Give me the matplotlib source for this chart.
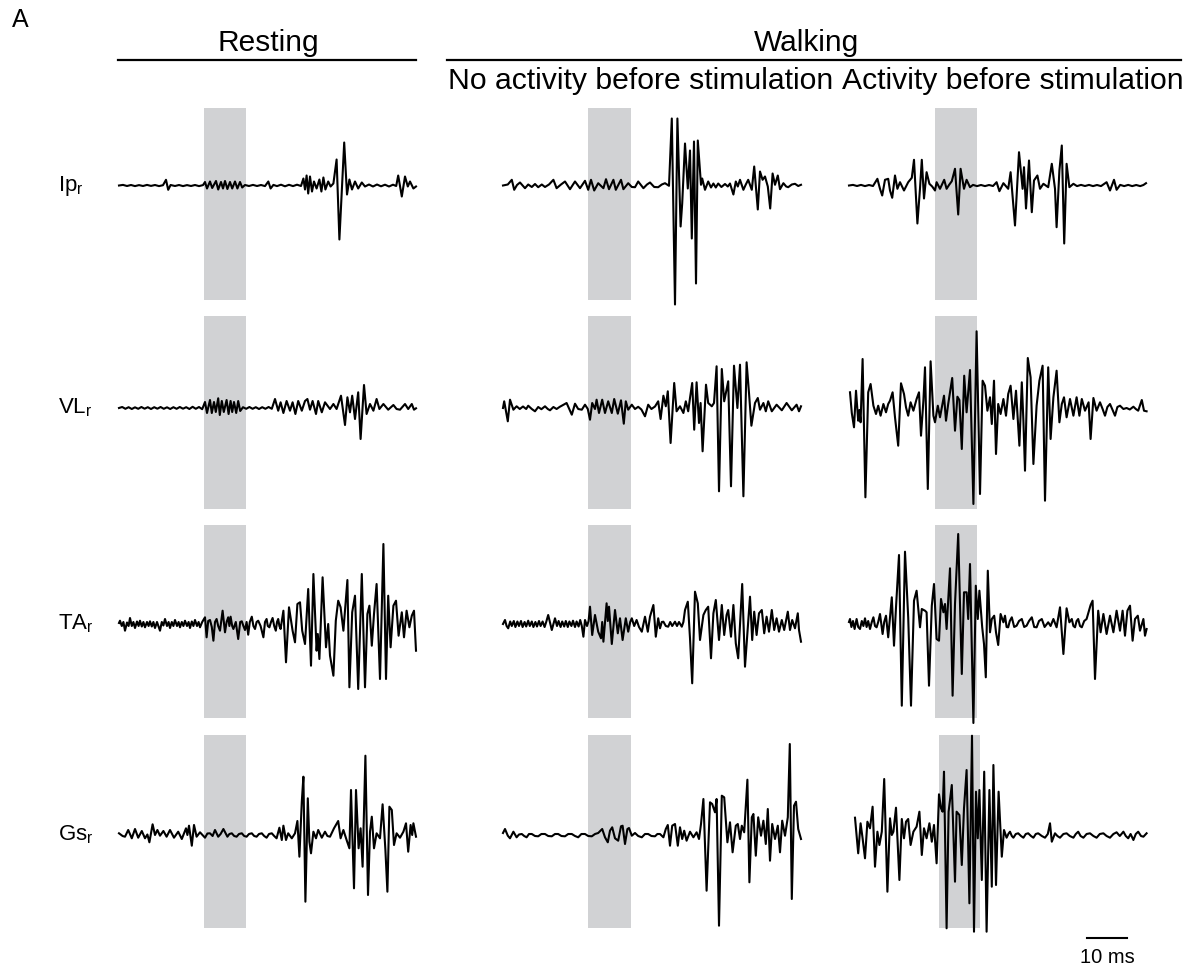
import matplotlib

matplotlib.use("Agg")
import matplotlib.pyplot as plt
from matplotlib.lines import Line2D

plt.rcParams["font.family"] = ["Liberation Sans", "DejaVu Sans"]
plt.rcParams["mathtext.fontset"] = "custom"
plt.rcParams["mathtext.rm"] = "Liberation Sans"

# EMG traces: (time in ms, amplitude in arbitrary units)
IP_REST = [(0, 0), (1, 0.6), (2, -0.5), (3, 0.5), (4, -0.6), (5, 0.4), (6, -0.5), (7, 0.6), (8, -0.4), (9, 0.5),
           (10, -0.6), (11, 0.3), (11.75, 5.7), (12.3, -4.3), (12.9, 0.5), (14, -0.5), (15, 0.5), (16, -0.6),
           (17, 0.4), (18, -0.5), (19, 0.5), (20, -0.6), (21, 0.4), (21.5, 3.5), (22, -3), (22.75, 4), (23.3, -2.5),
           (24.25, 4.5), (24.8, -4), (25.5, 3.5), (26, -3), (26.5, 4.5), (27.1, -3.5), (27.75, 3.5), (28.3, -3),
           (29, 4), (29.6, -3), (30.25, 3.5), (30.8, -2), (31.5, 0.5), (32.5, -0.5), (33.5, 0.6), (34.5, -0.5),
           (35.5, 0.5), (36.5, -0.6), (37.33, 4), (37.9, -3), (38.6, 0.6), (39.5, -0.6), (40.5, 0.8), (41.5, -0.8),
           (42.5, 0.7), (43.5, -0.6), (44.5, 0.8), (45.5, -0.5), (46.1, 7), (46.5, -4), (46.9, 10), (47.3, -8),
           (47.75, 9), (48.25, -6), (48.75, 4), (49.4, -3), (50.1, 6), (50.6, -6), (51.1, 8), (51.6, -4), (52.3, 4),
           (52.9, -1), (53.6, 2), (54.4, 26), (55.1, -54), (56.3, 43), (57, -9), (57.6, 6), (58.25, -4), (59, 4),
           (59.8, -3), (60.7, 3), (61.5, -1), (62.5, 1), (63.5, -1), (64.5, 1), (65.5, -0.8), (66.5, 0.8), (67.5, -1),
           (68.5, 0.8), (69.3, -0.5), (69.8, 10), (70.7, -11), (71.5, 9), (72.2, -1), (72.75, 4), (73.6, -3),
           (74.25, -1)]

IP_WALK0 = [(0, 0), (1.2, 1), (2.2, 5.7), (2.8, -4.3), (3.5, 0.5), (4.25, 3), (5.5, -2.7), (6.3, 1), (7.2, -1.5),
            (8, 1.5), (8.8, -1.7), (9.7, 1), (10.5, -1.5), (11.5, 1), (12.6, 5.7), (13.4, -2.7), (14.5, 1),
            (15.5, 4), (16.75, -3.7), (18, 4), (19.25, -2.7), (20.5, 4.7), (21.3, -4.3), (22, 5.7), (22.8, -5),
            (23.8, 2.3), (25.1, -2.7), (25.75, 6.3), (26.5, -3.7), (27.6, 5.7), (28.2, -4.3), (29.5, 5.7),
            (30.1, -3.7), (31.3, 2.3), (32.2, -1.5), (33, -1.7), (33.8, 4), (35.1, -2.7), (36, 1), (36.75, 3),
            (37.8, -1.5), (38.8, -1.7), (39.7, 1), (40.5, 2.3), (41.5, -0.3), (42.2, 67), (43, -119), (43.6, 67),
            (44.4, -41), (44.8, -18), (45.5, 42), (46.2, -3), (46.75, 35), (47.2, -53), (47.75, 44), (48.25, -98),
            (48.7, 45), (49.5, 0.7), (49.8, 7), (50.5, -4.3), (51.3, 4), (52, -2), (52.6, 2), (53.2, -2), (53.8, 2),
            (54.6, -1.5), (55.5, 1.5), (56.2, -1), (56.75, 2), (57.6, -9), (58.2, 4), (58.7, -1), (59.25, 5.7),
            (60.1, -4.3), (60.7, 1), (61.3, 5.7), (62.2, -4.3), (62.8, 19), (63.7, -24), (64.25, 14), (64.9, 5.7),
            (65.5, 9), (66.2, -1), (66.8, -23), (67.4, 12), (68, 0.7), (68.7, 10), (69.25, -3.7), (70.1, 2.3),
            (70.8, -1), (71.3, -1.7), (72.2, 1), (73, 1.7), (73.8, -0.5), (74.5, 0.7)]

IP_WALK1 = [(0, 0), (1, 0.6), (2, -0.5), (3, 0.6), (4, -0.6), (5, 0.5), (6, -0.5), (7.1, 6.7), (7.75, -3.3),
            (8.3, -10), (9, 5.7), (9.8, 6.7), (10.25, -5), (10.8, -12.3), (11.5, 10), (12.1, -3.3), (12.75, 3.3),
            (13.75, -5), (14.8, 3.3), (15.7, 7.7), (16.25, 25.7), (17.1, -38), (17.75, -3), (18.2, 25.7),
            (18.75, -13), (19.4, 13.3), (20.1, 1.7), (20.8, -1), (21.5, -5), (21.9, 3.3), (22.75, -3.3), (23.8, 5.7),
            (24.4, -3.3), (25, 0.5), (25.7, 4.3), (26.5, 16.7), (27.3, -29), (27.9, 16.7), (28.75, -3.3),
            (29.4, 5.7), (30.25, -1.7), (31, 0.6), (32, -0.6), (33, 0.5), (34, -0.6), (35, 0.5), (36, -0.5),
            (36.9, 3.3), (37.6, -5.7), (38.6, 2.3), (39.8, -3.3), (40.4, 13.3), (41.5, -40), (42.5, 33.3),
            (43.4, -3.3), (43.75, 18.3), (44.25, -23), (45, 25), (45.7, -26.7), (46.25, 5), (47.1, 10),
            (47.75, -3.3), (48.6, 1.7), (49.8, -1.7), (50.7, 21.7), (51.5, -3.3), (51.9, -41.7), (52.6, 15),
            (53.2, 40), (53.8, -58), (54.4, 21.7), (55.1, -1.7), (56.1, 1.7), (57, -0.6), (58, 0.6), (59, -0.5),
            (60, 0.6), (61, -0.6), (62, 0.5), (63, -0.6), (64.4, 3.3), (65.25, -5), (66.25, 5.7), (66.9, -4.3),
            (67.8, 0.6), (68.8, -0.6), (69.8, 0.6), (70.8, -0.6), (71.8, 0.5), (72.8, -0.6), (73.6, 0.5),
            (74.25, 2.3)]

VL_REST = [(0, 0), (0.8, 1), (1.6, -0.8), (2.4, 0.8), (3.2, -1), (4, 0.7), (4.8, -0.8), (5.6, 1), (6.4, -0.7),
           (7.2, 0.8), (8, -1), (8.8, 0.8), (9.6, -0.7), (10.4, 1), (11.2, -0.8), (12, 0.7), (12.8, -1), (13.6, 0.8),
           (14.4, -0.8), (15.2, 1), (16, -0.7), (16.8, 0.8), (17.6, -1), (18.4, 1.2), (19.2, -0.8), (20, 1),
           (20.8, -1.2), (21.5, 6), (22, -5), (22.75, 8), (23.2, -5), (23.75, 6), (24.2, -4), (24.8, 9.7), (25.2, -7),
           (25.7, 7), (26.2, -4), (26.9, 8), (27.4, -6), (27.9, 7), (28.3, -4), (28.75, 6), (29.3, -5), (29.8, 7),
           (30.3, -3), (31, 0.8), (31.8, -0.8), (32.6, 1), (33.4, -0.8), (34.2, 0.8), (35, -1), (35.8, 0.8),
           (36.6, -0.8), (37.4, 1), (38.2, -0.8), (39, 9), (39.8, -2.7), (40.4, 5.7), (41.1, -5), (41.9, 7),
           (42.75, -2.7), (43.4, 5.7), (44.1, -6), (44.8, 7), (45.7, -2.7), (46.5, 7), (47.1, 9), (47.75, -1.7),
           (48.4, 7), (49.25, -6), (49.8, 7), (50.7, -4.3), (51.5, 5.7), (52.75, -1), (53.6, 4), (54.4, -1),
           (55.5, 12.3), (56.5, -17), (57.1, 10.7), (57.75, -4.3), (58.3, 12.3), (59, -11), (59.8, 15.7),
           (60.4, -31), (61.25, 23), (61.9, -6), (62.75, 4), (63.6, -2.7), (64.4, 9), (65.1, -1), (66.1, 4),
           (67.3, -1.7), (68.6, 3), (69.4, -1), (70.25, -1.7), (71.5, 4), (72.3, -1), (73.2, 4), (73.75, -1.7),
           (74.25, -0.3)]

VL_WALK0 = [(0, 0), (0.3, 6.7), (1.2, -13.3), (1.75, 8.3), (2.6, -1.7), (3.4, 1.7), (4.2, -1), (5, 1.5), (5.8, -1),
            (6.3, 2.3), (7.2, -1), (8, -3.3), (8.8, 1), (9.6, -1.2), (10.5, 1.7), (11.2, -1), (11.75, -2.3),
            (12.6, 1), (13.4, -1), (14.2, 1.2), (14.7, 2.3), (15.9, 5), (17.2, -6.7), (18, 4.3), (18.8, -1),
            (19.7, -1.7), (20.5, 3.3), (21.2, -1), (21.75, -11.7), (22.3, 5), (23, -1), (23.4, 8.3), (24, -5),
            (24.8, 8.3), (25.5, -5), (26.3, 6.7), (27.2, -5), (27.8, 9), (28.7, -5.7), (29.5, 7.7), (30.2, -15.7),
            (30.7, 6.7), (31.3, -1.7), (32.2, 3.3), (33, -1), (33.8, 1.2), (34.6, -1.5), (35.5, -8.3), (36.3, 3.3),
            (37.1, -1), (38, 1.5), (38.8, 6.7), (39.4, -11), (40.1, 12.3), (40.7, 1.7), (41.2, 16.7), (41.9, -35),
            (42.8, 25), (43.4, -3.3), (44.25, 1.7), (45.1, -5), (45.7, 6.7), (46.3, -3.3), (46.75, 10), (47.3, 25),
            (47.8, -21.7), (48.4, 25.7), (49, -15), (49.4, 5), (49.9, -43.3), (50.75, 23.3), (51.3, 5), (52.2, 1.7),
            (52.75, 5), (53.4, 41.7), (54, -83.3), (54.7, 39), (55.3, 6.7), (56.3, 26.7), (57, -78.3),
            (57.75, 42.3), (58.6, 0), (59.25, 43.3), (60.1, -88.3), (60.9, 45.7), (61.5, 15), (62.1, -17.7),
            (63, 5), (63.7, 10), (64.25, -1.7), (65.1, 5), (65.7, -3.3), (66.3, 6.7), (67.2, -3.3), (68.4, 3.3),
            (69.7, -2.3), (70.9, 5), (72.2, -2.3), (73.4, 3.3), (74, -3.3), (74.5, 1.7)]

VL_WALK1 = [(0.25, 15.7), (0.7, -5), (1.25, -19.3), (1.75, 17.3), (2.3, -12.7), (2.6, -2), (2.9, -14.3), (3.4, 49),
            (4.1, -89.3), (4.8, 15.7), (5.4, 24), (6.1, 2.3), (6.75, -6), (7.3, 2.3), (7.9, -7.7), (8.6, 4),
            (9.25, -4.3), (9.8, 4), (10.25, 7.3), (10.9, 15.7), (11.5, -9.3), (12.3, -37.7), (13, 24.7),
            (13.75, 14), (14.25, 0.7), (14.8, -7.7), (15.4, 5.7), (16.1, -2.7), (16.9, 9), (17.5, 15.7),
            (18, -27.7), (18.6, 7.3), (19, 40.7), (19.7, -81), (20.4, 46.7), (21.1, -7.7), (21.5, -14.3),
            (22.2, 2.3), (22.75, -9.3), (23.75, 12.3), (24.25, -12.7), (24.8, 4), (25.8, 30), (26.5, -22.7),
            (27.1, 11.3), (27.6, 8), (28.2, -41), (28.8, 32.3), (29.4, -4.3), (30.25, 38), (31.1, -96),
            (31.9, 76.7), (32.75, -86), (33.4, 27.3), (34, 22.3), (34.6, -2.7), (35.25, 10.7), (35.7, -16),
            (36.25, 27.3), (36.75, -46), (37.3, 4), (37.9, -6), (38.6, 9), (39.25, -7.7), (39.8, 14), (40.4, 22.3),
            (41.1, -11), (41.75, 17.3), (42.6, -37.7), (43.2, 25.7), (43.6, -12.7), (44, -62.7), (44.7, 50),
            (45.4, 30.7), (46.1, -56), (46.9, 2.3), (47.6, 27.3), (48.4, 42.3), (49, -92.7), (49.8, 40.7),
            (50.4, -31), (51.1, 10.7), (51.9, 37.3), (52.6, -14.3), (53.2, 4), (53.75, 10.7), (54.4, -9.3),
            (55.25, 9), (56.1, -7.7), (56.9, 10.7), (57.6, -7.7), (58.2, 9), (59, -2.7), (59.9, 5.7), (60.4, -31),
            (61.1, 10), (61.9, -2.7), (62.75, 5.7), (63.4, -1), (64, -7.7), (64.6, 1), (65.25, 4), (65.9, -2),
            (66.5, -7.7), (67.1, 1), (67.75, 2.3), (68.6, -1), (69.4, 0), (70.2, -1.5), (71.1, 1.3), (71.7, -1),
            (72.3, -2.7), (73.2, 8), (73.75, -2.7), (74.4, -3.3)]

TA_REST = [(0, 1), (0.25, 3.3), (0.7, -2), (1.1, 2), (1.5, -6.7), (2, 1.5), (2.4, -2), (2.75, 6), (3.2, -2),
           (3.6, 2), (4, -4), (4.5, 2.5), (4.9, -2), (5.25, 3.3), (5.7, -2.5), (6.1, 2), (6.5, -3.3), (7, 2),
           (7.4, -2), (7.75, 2.7), (8.2, -2.5), (8.6, 2), (9, -4), (9.5, 2), (9.9, -2.5), (10.25, -6.7), (10.7, 2),
           (11.1, -1.5), (11.5, 5), (12, -2), (12.4, 2), (12.75, -4), (13.2, 2), (13.6, -2), (14, 4), (14.5, -2),
           (14.9, 2), (15.25, -3.3), (15.7, 2), (16.1, -2), (16.5, 3.3), (17, -2), (17.4, 2), (17.75, -4),
           (18.2, 2.5), (18.6, -2), (19, 4), (19.5, -2), (19.9, 2), (20.25, -3.3), (20.8, 2), (21.5, 6.7),
           (21.9, -13.3), (22.3, 3), (22.75, 4), (23.2, -3), (23.6, -16.7), (24, 2), (24.4, 5), (24.8, -2),
           (25.25, -6.7), (25.9, 13.3), (26.5, -8.3), (26.9, 2), (27.3, 6.7), (27.6, -2), (27.9, 7.3), (28.3, -2),
           (28.6, -5), (29.2, 2), (29.8, -15), (30.3, 2), (30.7, 2.7), (31.1, -2), (31.5, -6), (31.9, 2),
           (32.3, -10.7), (32.7, 2), (33.2, 7.3), (33.6, -2), (34, -5), (34.4, 2), (34.8, 3.3), (35.4, -2),
           (36.1, -13.3), (36.5, 2), (36.9, 5), (37.2, -2), (37.6, -3.3), (38, 2), (38.4, 6), (38.8, -2),
           (39.2, -6.7), (39.5, 2), (39.8, 5), (40.1, -2), (40.4, -5), (41.1, 13.3), (41.75, -38.3), (42.5, 16.7),
           (43.4, -6.7), (44, -18.3), (44.6, 20), (45.25, 21.7), (45.8, -6.7), (46.5, -20), (47.3, 35),
           (48, -41.7), (48.6, 50), (49.4, -26.7), (49.7, -10), (50.1, -35), (50.9, 46.7), (51.75, -23.3),
           (52.3, 0), (52.75, -31.7), (53.6, -51.7), (54.2, 3.3), (54.8, 23.3), (55.4, 16.7), (56.1, -6.7),
           (57.1, 44), (57.6, -63.3), (58.3, 11.7), (59, 28.3), (59.8, -65), (60.7, 50), (61.5, -63.3), (62.1, 10),
           (62.6, 18.3), (63.2, -21.7), (63.75, 10), (64.4, 40), (65.25, -55), (66.1, 80), (66.75, -55),
           (67.3, 28.3), (67.9, -23.3), (68.6, 18.3), (69.25, 23.3), (69.9, -11.7), (70.7, 11.7), (71.25, -13.3),
           (71.9, 13.3), (72.6, -3.3), (73.2, 8.3), (73.75, 13.3), (74.25, -26.7)]

TA_WALK0 = [(0, 0), (0.5, 4), (0.9, -2), (1.3, -4.3), (1.8, 2.5), (2.2, -2), (2.7, 3), (3.1, -3), (3.6, 2.5),
            (4, -2), (4.5, 3), (4.9, -3), (5.4, 2), (5.8, -2.5), (6.3, 3.3), (6.7, -2), (7.2, 2.5), (7.6, -3),
            (8.1, 2), (8.5, -2.5), (9, 3), (9.4, -2), (9.9, 2.5), (10.4, -3), (10.8, 2), (11.3, 9), (12.2, -6),
            (13, 5.7), (13.5, -2), (13.9, 3), (14.4, -3), (14.8, 2.5), (15.3, -2.5), (15.7, 3), (16.2, -3),
            (16.6, 2.5), (17.1, -2), (17.5, 3.3), (18, -3), (18.4, 2.5), (18.9, -2.5), (19.3, 4), (19.7, -2),
            (20.1, -12.7), (20.5, 4), (21, -2), (21.4, 3), (21.75, 17.3), (22.3, -11), (23, 9), (23.8, -7.7),
            (24.5, -14.3), (24.8, 2), (25.1, -17.7), (25.9, 20.7), (26.2, 3), (26.5, 17.3), (27.2, -20), (28, 14),
            (28.7, -9.3), (29.25, 5.7), (29.9, -16), (30.7, 5.7), (31.3, -7.7), (31.8, 2), (32.2, 5.7), (32.8, -2),
            (33.4, 4), (34, -3), (34.7, -7.7), (35.5, 7.3), (36.2, -7.7), (36.75, 7.3), (37.6, 19), (38.2, -12.7),
            (38.8, 5.7), (39.25, -4.3), (39.7, 2), (40.1, 2.3), (40.7, -2), (41.3, -2.7), (41.8, 2), (42.3, -2),
            (43, 2.3), (43.5, -2), (44, 2), (44.7, -2.7), (45.1, 2), (45.5, 14), (46.2, 22.3), (46.75, -14.3),
            (47.3, -59.3), (48, 32.3), (48.7, 20.7), (49.25, -16), (50.1, 9), (50.7, 14), (51.3, 17.3), (52, -34.3),
            (52.6, 10.7), (53.2, 24), (54, -16), (54.7, 19), (55.3, -11), (55.9, 9), (56.3, 14), (57, -12.7),
            (57.6, 19), (58.2, -19.3), (58.8, -34.3), (59.8, 40), (60.5, -42.7), (61.2, -2.7), (61.75, 27.3),
            (62.3, -16), (62.8, 12.3), (63.4, -11), (64, 10.7), (64.7, 14), (65.3, -9.3), (65.9, 7.3), (66.5, -7.7),
            (67.2, 14), (67.8, -6), (68.4, 5.7), (69, -7.7), (69.7, 4), (70.3, -6), (71.2, 12.3), (71.75, -6),
            (72.3, 4), (73, -4.3), (73.7, 10.7), (74, -6), (74.5, -17.7)]

TA_WALK1 = [(0, 2), (0.25, 5), (0.6, -3), (1, 3), (1.4, -5), (1.9, 5), (2.3, -3), (2.75, -5), (3.2, 3), (3.6, -2),
            (4, 5.7), (4.4, -3), (4.8, 3), (5.25, -5), (5.7, 2), (6.1, 6.7), (6.5, -2), (6.9, -3.3), (7.3, 2),
            (7.75, 10), (8.4, -10), (8.8, 2), (9.25, 8.3), (9.8, -13.3), (10.7, 26.7), (11.25, -21.7),
            (11.75, 16.7), (12.5, 69), (13.2, -81.7), (14, 72.3), (14.8, 6.7), (15.5, -81.7), (16.25, 23.3),
            (16.9, 33.3), (17.75, -3.3), (18.2, 15), (19, 13.3), (19.4, 11.7), (20, -61.7), (20.7, 18.3),
            (21.25, 40), (21.9, -15), (22.5, -16.7), (23, 25), (23.6, 11.7), (24, 20), (24.4, -5), (25.25, 55.7),
            (25.9, -71.7), (26.5, 20), (27.3, 90), (28.2, -50), (28.75, 31.7), (29.4, 31.7), (29.8, 5),
            (30.25, 60), (31.1, -99), (31.7, 38.3), (32.2, 5), (32.6, 33.3), (33.3, -3.3), (33.75, -20),
            (34.2, -53.3), (34.7, 53.3), (35.25, -8.3), (35.7, 5), (36.3, 8.3), (36.75, -8.3), (37.3, -21),
            (37.9, 10), (38.6, 1.7), (39, 8.3), (39.4, -3), (39.8, -3.3), (40.2, 3), (40.7, 6.7), (41.3, -3),
            (41.9, -1.7), (42.5, 3), (43.2, 5), (43.8, -3), (44.4, -1.7), (45, 3), (45.7, 6.7), (46.3, -3),
            (46.9, -3.3), (47.5, 3), (48.2, 5), (48.9, -3), (49.8, 1.7), (50.4, -2), (51.1, 5), (51.9, -3.3),
            (52.75, 16.7), (53.6, -30), (54.4, 15.7), (55.1, 1.7), (55.7, 5), (56.1, -2), (56.5, -3.3), (56.9, 3),
            (57.3, 5), (57.75, -2), (58.2, -3.3), (58.8, 3), (59.4, 5), (60.4, 19), (60.9, 23.3), (61.5, -55),
            (62.3, 13.3), (62.9, -8.3), (63.6, 10), (64.4, -10), (65.25, 8.3), (66.1, -8.3), (66.9, 13.3),
            (67.75, -6.7), (68.4, 13.3), (69, -11.7), (69.6, 13.3), (70.25, 18.3), (70.9, -16.7), (71.5, 5),
            (72.2, 8.3), (72.75, -6.7), (73.6, 5), (74, -11.7), (74.4, -5)]

GS_REST = [(0, 1.7), (0.9, -1), (1.5, -1.7), (2.3, 5), (3.2, -3.3), (4, 6), (4.8, -2.7), (5.7, 4), (6.5, -3.3),
           (7.1, 0.5), (7.6, -7.3), (8.4, 10.7), (9, 0), (9.6, 5), (10.25, -0.7), (11.1, 4), (11.9, -1.7),
           (12.75, 5), (13.75, -2.7), (14.8, 3.3), (15.7, -4), (16.75, 6.7), (17.1, 0), (17.5, 9.3), (18.2, -10.7),
           (18.75, 10), (19.4, -1.7), (20.25, 2.7), (21.5, -2.7), (22.1, 1.5), (22.75, 1.7), (23.4, -1), (24, 5),
           (24.8, -1.7), (25.4, 1), (26.1, 6), (27.1, -1.7), (27.6, 1), (28.2, 1.7), (28.8, -1), (29.4, -1.7),
           (30, 1), (30.7, 1.7), (31.3, -1), (31.9, -1.7), (32.5, 1), (33.2, 1.7), (33.8, -1), (34.4, -1.7),
           (35, 1), (35.7, 1.7), (36.3, -1), (36.9, -2.7), (37.5, 1), (38.2, 1.7), (38.8, -1), (39.4, -3.3),
           (40.1, 7.3), (40.7, -5), (41.1, 9.3), (41.75, -5), (42.3, 1.7), (43.2, -3.3), (44, 1.7), (44.6, 14),
           (45.1, -21.7), (45.7, 33.3), (46.1, 58.3), (46.6, -66.7), (47.2, 36.7), (47.6, -6.7), (48, -18.3),
           (48.6, 3.3), (49.25, -3.3), (49.8, 5), (50.7, -2.7), (51.5, 3.3), (52.1, -1), (52.75, -1.7),
           (53.75, 6.7), (54.8, 14), (55.4, -3.3), (56.1, 5), (56.9, -5), (57.6, -13.3), (58, 45), (58.75, -53.3),
           (59.25, 45), (59.9, -13.3), (60.4, 6.7), (60.9, -31.7), (61.6, 79.3), (62.25, -60), (62.75, 3.3),
           (63.2, 18.3), (63.75, -13.3), (64.4, 1.7), (65.25, -3.3), (65.9, 30.7), (66.6, -15), (67.1, -56.7),
           (67.6, 28.3), (68.2, 25), (68.75, -10), (69.4, 1.7), (70.25, -2.7), (71.1, 3.3), (71.75, 11.7),
           (72.3, -16.7), (72.9, 10), (73.3, 0), (73.6, 11.7), (74.25, -1.7)]

GS_WALK0 = [(0, 2), (0.5, 6), (1.2, -0.7), (1.75, -3.3), (2.6, 3.3), (3.4, -2.3), (4, 0.5), (4.7, 1), (5.3, -1),
            (5.9, -2.3), (6.5, 1), (7.2, 1), (8, -1), (8.8, -1.3), (9.6, 1), (10.5, 1), (11.3, -1), (12.2, -1.3),
            (13, 1), (13.8, 1), (14.6, -1), (15.5, -1.3), (16.3, 1), (17.2, 1), (18, -1), (18.8, -2.3), (19.6, 1),
            (20.5, 1), (21.3, -1), (22.2, -1.3), (23, 1), (23.8, 2), (24.8, 6), (25.5, -2.3), (26.2, -7.3),
            (26.75, 4.3), (27.3, 7.7), (28, -3.3), (28.8, -5.7), (29.5, 8.7), (29.9, 9.3), (30.5, -9), (31.1, 6),
            (31.5, 7), (32.2, -0.7), (33, 2), (33.8, -1), (34.7, -2.3), (35.5, 1), (36.3, 1), (37.1, -1),
            (38, -1.3), (38.6, 1), (39.25, 1), (40.1, -2.3), (40.7, 6), (41.2, 10), (41.75, -10.7), (42.3, 9.3),
            (43, 11), (43.7, -10.7), (44.25, 7.7), (44.8, -4), (45.3, 4.3), (45.9, -5.7), (46.75, 3.3), (47.6, -2.3),
            (48.4, 2.7), (49, -4), (49.5, 11), (50.1, 36), (50.9, -55.7), (51.75, 32.7), (52.3, 31), (53, 22.7),
            (53.4, 36), (54, -90.7), (54.7, 39.3), (55.3, 37.7), (56.1, -7.3), (56.75, 12.7), (57.4, -17.3),
            (58.2, 9.3), (58.7, 11), (59.25, -4), (59.7, 9.3), (60.3, 2.7), (61.1, 55.3), (61.6, -47.3),
            (62.2, 17.7), (62.6, 21), (63.2, -20.7), (63.8, 17.7), (64.5, -0.7), (65.1, 14.3), (65.7, -9),
            (66.2, 26), (66.75, -25.7), (67.3, 11), (68, -4), (68.7, 9.3), (69.25, -17.3), (69.8, 14.3),
            (70.5, -0.7), (71.2, 17.7), (71.7, 91), (72.2, -64), (72.75, 29.3), (73.25, 33.3), (73.8, 6),
            (74.5, -4)]

GS_WALK1 = [(1.5, 17.3), (2.3, -18.3), (2.9, 11.7), (3.4, -3.3), (4, -23.3), (4.6, 13.3), (5.25, 6.7), (5.9, 28.3),
            (6.5, -31.7), (7.1, 3.3), (7.6, -10), (8.2, 3.3), (8.8, 56), (9.6, -56.7), (10.25, 16.7), (10.7, 0),
            (11.1, 3.3), (11.75, 27.3), (12.6, -45), (13.2, 16), (13.75, -3.3), (14.25, 13.3), (14.8, 16),
            (15.4, -10), (16.1, 3.3), (16.9, 8.3), (17.6, 23.3), (18.2, -20), (18.75, 6.7), (19.4, -3.3),
            (20.1, 11.7), (20.7, -6.7), (21.25, 10), (21.9, -28.3), (22.5, 40.7), (23, 26.7), (23.4, 23.3),
            (23.75, 63.3), (24.4, -93.3), (24.9, 23.3), (25.7, 50), (26.5, -46.7), (26.9, 23.3), (27.6, 20),
            (28.2, -30), (28.75, 26.7), (29.4, 65), (30.1, -68.3), (30.75, 99.3), (31.25, -96.7), (31.75, 43.3),
            (32.2, -3.3), (32.6, 45), (33.2, -45), (33.8, 63.3), (34.4, -96.7), (35.1, 45), (35.7, -51.7),
            (36.1, 70), (36.75, -50), (37.4, 43.3), (38.2, -21.7), (38.75, 5), (39.4, -2.7), (39.9, 1.5),
            (40.25, 3.3), (40.7, -1), (41.1, -2.7), (41.7, 1), (42.3, 1.7), (43, -1), (43.6, -2.7), (44.2, 1),
            (44.8, 1.7), (45.5, -1), (46.1, -2.7), (46.7, 1), (47.3, 1.7), (48.2, -1), (49, -2.7), (49.7, 1),
            (50.25, 11.7), (50.7, -6.7), (51.5, 1.7), (52.1, -1), (52.75, -2.7), (53.6, 1), (54.4, 1.7), (55.2, -1),
            (56.1, -2.7), (56.7, 1), (57.3, 3.3), (57.9, -1), (58.6, -2.7), (59.4, 1), (60.25, 1.7), (61.1, -1),
            (61.9, -2.7), (62.7, 1), (63.6, 1.7), (64.4, -1), (65.25, -2.7), (66.1, 1), (66.9, 2.7), (67.7, -1),
            (68.6, 3.3), (69.2, -1), (69.8, -3.3), (70.4, 1), (71.1, -5), (71.7, 1), (72.3, 3.3), (73, -1),
            (73.6, -1.7), (74.4, 1.7)]

MUSCLES = ["Ip", "VL", "TA", "Gs"]
TRACES = [
    [IP_REST, IP_WALK0, IP_WALK1],
    [VL_REST, VL_WALK0, VL_WALK1],
    [TA_REST, TA_WALK0, TA_WALK1],
    [GS_REST, GS_WALK0, GS_WALK1],
]
# stimulation window (ms) per panel, last panel shifted
STIM = [
    [(21.25, 31.75), (21.25, 32.0), (21.5, 32.0)],
    [(21.25, 31.75), (21.25, 32.0), (21.5, 32.0)],
    [(21.25, 31.75), (21.25, 32.0), (21.5, 32.0)],
    [(21.25, 31.75), (21.25, 32.0), (22.5, 32.75)],
]

# layout in pixels
W, H = 1202, 975
COL_LEFT = [119, 503, 849]
ROW_TOP = [108, 316, 525, 735]
ROW_BOT = [300, 509, 718, 928]
BASELINE = [185.5, 408, 624, 835]
PX_PER_MS = 4.0

fig = plt.figure(figsize=(W / 100, H / 100), dpi=100)

axes = []
for r in range(4):
    for c in range(3):
        ax = fig.add_axes([COL_LEFT[c] / W, 1 - ROW_BOT[r] / H, 300 / W, (ROW_BOT[r] - ROW_TOP[r]) / H])
        ax.set_xlim(0, 300 / PX_PER_MS)
        ax.set_ylim(BASELINE[r] - ROW_BOT[r], BASELINE[r] - ROW_TOP[r])
        ax.axis("off")
        on, off = STIM[r][c]
        ax.axvspan(on, off, color="#d1d2d4", lw=0, zorder=1)
        t = [p[0] for p in TRACES[r][c]]
        v = [p[1] for p in TRACES[r][c]]
        ax.plot(t, v, color="black", lw=1.5, zorder=3, clip_on=False)
        axes.append(ax)

    fig.text(58 / W, 1 - BASELINE[r] / H, r"$\mathregular{%s_r}$" % MUSCLES[r],
             fontsize=16, ha="left", va="center")

# 10 ms scale bar
sb = axes[-1]
sb.plot([59.5, 69.5], [-103, -103], color="black", lw=1.5, clip_on=False)
sb.text(64.5, -113, "10 ms", ha="center", va="top", fontsize=14.5)

# headers
fig.text(12 / W, 1 - 8 / H, "A", fontsize=18, ha="left", va="top")
fig.text(268 / W, 1 - 51 / H, "Resting", fontsize=21.5, ha="center", va="baseline")
fig.text(807 / W, 1 - 51 / H, "Walking", fontsize=21.5, ha="center", va="baseline")
fig.text(641 / W, 1 - 89 / H, "No activity before stimulation", fontsize=21.7, ha="center", va="baseline")
fig.text(1013 / W, 1 - 89 / H, "Activity before stimulation", fontsize=21.7, ha="center", va="baseline")
fig.add_artist(Line2D([118 / W, 416 / W], [1 - 60 / H] * 2, color="black", lw=1.6))
fig.add_artist(Line2D([447 / W, 1181 / W], [1 - 60 / H] * 2, color="black", lw=1.6))

fig.savefig("out.png", dpi=100)
